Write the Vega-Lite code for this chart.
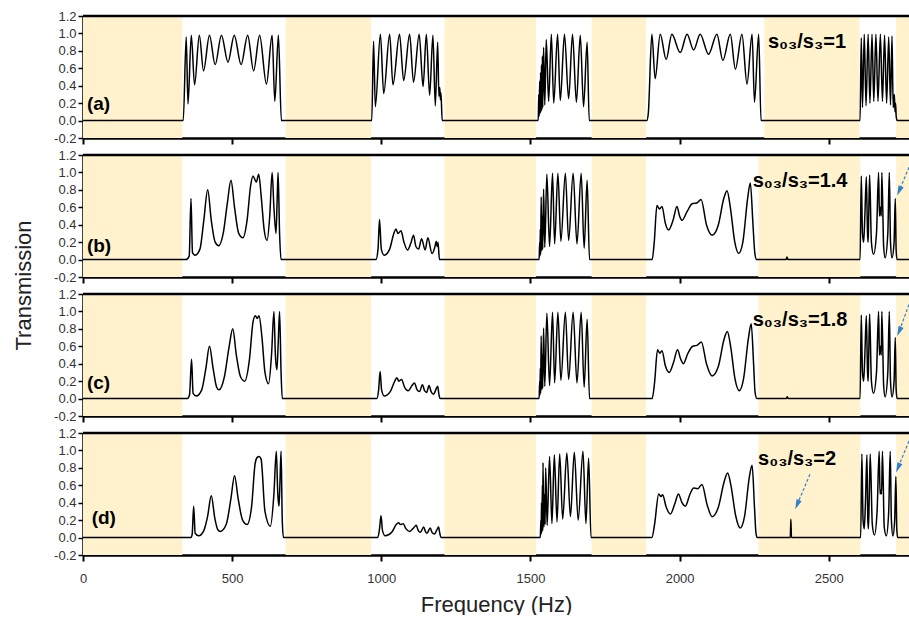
{
"$schema": "https://vega.github.io/schema/vega-lite/v6.json",
"padding": {"left": 11, "top": 10, "right": 0, "bottom": 0},
"background": "white",
"config": {
  "view": {"stroke": null},
  "font": "Liberation Sans",
  "axisX": {"tickSize": 6, "tickWidth": 2, "tickColor": "black", "domainColor": "black", "domainWidth": 2.5, "grid": false, "labelFontSize": 13, "labelColor": "#333", "labelPadding": 11, "labelFlush": false, "titleFontSize": 22, "titleFontWeight": "normal", "titleColor": "#222", "titlePadding": 9},
  "axisY": {"tickSize": 5, "tickWidth": 1.5, "tickColor": "black", "domainColor": "black", "domainWidth": 2.5, "grid": false, "labelFontSize": 13, "labelColor": "#333", "labelPadding": 2, "labelFlush": false, "labelOverlap": false, "titleFontSize": 22, "titleFontWeight": "normal", "titleColor": "#222"}
},
"datasets": {
  "bandsA": [{"f":0,"f1":333},{"f":679,"f1":966},{"f":1212,"f1":1519},{"f":1705,"f1":1888},{"f":2284,"f1":2603},{"f":2726,"f1":2769}],
  "bandsB": [{"f":0,"f1":333},{"f":679,"f1":966},{"f":1212,"f1":1519},{"f":1705,"f1":1888},{"f":2264,"f1":2606},{"f":2726,"f1":2769}],
  "a": [
    {"f":0,"t":0},{"f":336,"t":0},{"f":346,"t":0.96},{"f":352,"t":0.19},{"f":363,"t":0.98},{"f":374,"t":0.41},{"f":390,"t":0.98},{"f":404,"t":0.57},{"f":424,"t":0.98},{"f":443,"t":0.64},{"f":464,"t":0.98},{"f":486,"t":0.67},{"f":507,"t":0.98},{"f":530,"t":0.64},{"f":552,"t":0.98},{"f":572,"t":0.57},{"f":592,"t":0.98},{"f":615,"t":0.42},{"f":634,"t":0.98},{"f":643,"t":0.22},{"f":655,"t":0.98},{"f":665,"t":0},
    {"f":968,"t":0},{"f":974,"t":0.91},{"f":980,"t":0.16},{"f":997,"t":0.99},{"f":1008,"t":0.31},{"f":1028,"t":0.99},{"f":1039,"t":0.41},{"f":1061,"t":0.99},{"f":1075,"t":0.46},{"f":1095,"t":0.99},{"f":1108,"t":0.44},{"f":1127,"t":0.99},{"f":1140,"t":0.39},{"f":1151,"t":0.99},{"f":1162,"t":0.29},{"f":1173,"t":0.98},{"f":1181,"t":0.17},{"f":1189,"t":0.9},{"f":1193,"t":0.28},{"f":1196,"t":0.38},{"f":1198,"t":0.24},{"f":1200,"t":0.32},{"f":1204,"t":0},
    {"f":1526,"t":0},{"f":1528,"t":0.3},{"f":1529,"t":0.05},{"f":1531,"t":0.45},{"f":1532,"t":0.08},{"f":1534,"t":0.55},{"f":1535,"t":0.1},{"f":1537,"t":0.64},{"f":1538,"t":0.12},{"f":1540,"t":0.74},{"f":1541,"t":0.15},{"f":1544,"t":0.84},{"f":1548,"t":0.18},{"f":1553,"t":0.93},{"f":1561,"t":0.22},{"f":1570,"t":0.99},{"f":1578,"t":0.2},{"f":1591,"t":0.99},{"f":1600,"t":0.23},{"f":1614,"t":0.99},{"f":1628,"t":0.25},{"f":1641,"t":0.99},{"f":1654,"t":0.21},{"f":1667,"t":0.98},{"f":1678,"t":0.16},{"f":1690,"t":0.9},{"f":1697,"t":0},
    {"f":1890,"t":0},{"f":1895,"t":0.08},{"f":1907,"t":0.99},{"f":1918,"t":0.48},{"f":1935,"t":0.99},{"f":1955,"t":0.7},{"f":1974,"t":0.99},{"f":2002,"t":0.78},{"f":2025,"t":0.99},{"f":2047,"t":0.81},{"f":2069,"t":0.99},{"f":2097,"t":0.76},{"f":2125,"t":0.99},{"f":2145,"t":0.69},{"f":2170,"t":0.99},{"f":2187,"t":0.59},{"f":2209,"t":0.99},{"f":2226,"t":0.42},{"f":2243,"t":0.99},{"f":2251,"t":0.21},{"f":2265,"t":0.99},{"f":2273,"t":0},
    {"f":2605,"t":0},{"f":2609,"t":0.95},{"f":2613,"t":0.15},{"f":2619,"t":0.99},{"f":2625,"t":0.17},{"f":2632,"t":0.99},{"f":2638,"t":0.2},{"f":2645,"t":0.99},{"f":2651,"t":0.22},{"f":2658,"t":0.99},{"f":2665,"t":0.22},{"f":2673,"t":0.99},{"f":2680,"t":0.22},{"f":2687,"t":0.98},{"f":2694,"t":0.2},{"f":2701,"t":0.96},{"f":2707,"t":0.18},{"f":2712,"t":0.97},{"f":2716,"t":0.15},{"f":2720,"t":0.3},{"f":2722,"t":0.1},{"f":2724,"t":0.2},{"f":2726,"t":0.05},{"f":2729,"t":0},{"f":2769,"t":0}
  ],
  "b": [
    {"f":0,"t":0},{"f":345,"t":0},{"f":356,"t":0.04},{"f":362,"t":0.7},{"f":367,"t":0.08},{"f":376,"t":0.05},{"f":392,"t":0.12},{"f":405,"t":0.45},{"f":418,"t":0.8},{"f":430,"t":0.45},{"f":443,"t":0.2},{"f":455,"t":0.16},{"f":470,"t":0.3},{"f":484,"t":0.65},{"f":496,"t":0.91},{"f":508,"t":0.6},{"f":522,"t":0.3},{"f":536,"t":0.25},{"f":550,"t":0.45},{"f":562,"t":0.85},{"f":570,"t":0.96},{"f":581,"t":0.89},{"f":589,"t":0.98},{"f":598,"t":0.7},{"f":607,"t":0.35},{"f":617,"t":0.22},{"f":626,"t":0.5},{"f":634,"t":1.0},{"f":640,"t":0.6},{"f":647,"t":0.3},{"f":651,"t":0.7},{"f":654,"t":1.0},{"f":659,"t":0.3},{"f":664,"t":0},
    {"f":982,"t":0},{"f":989,"t":0.12},{"f":994,"t":0.46},{"f":1000,"t":0.12},{"f":1010,"t":0.05},{"f":1028,"t":0.12},{"f":1042,"t":0.3},{"f":1049,"t":0.35},{"f":1056,"t":0.3},{"f":1066,"t":0.33},{"f":1076,"t":0.2},{"f":1088,"t":0.11},{"f":1100,"t":0.2},{"f":1108,"t":0.28},{"f":1116,"t":0.15},{"f":1125,"t":0.12},{"f":1135,"t":0.24},{"f":1147,"t":0.11},{"f":1156,"t":0.25},{"f":1170,"t":0.07},{"f":1180,"t":0.15},{"f":1184,"t":0.21},{"f":1187,"t":0.15},{"f":1190,"t":0.2},{"f":1195,"t":0},
    {"f":1529,"t":0},{"f":1531,"t":0.2},{"f":1532,"t":0.04},{"f":1533,"t":0.35},{"f":1534,"t":0.06},{"f":1536,"t":0.72},{"f":1538,"t":0.1},{"f":1540,"t":0.5},{"f":1541,"t":0.12},{"f":1544,"t":0.81},{"f":1548,"t":0.14},{"f":1555,"t":0.98},{"f":1564,"t":0.15},{"f":1574,"t":0.99},{"f":1581,"t":0.18},{"f":1592,"t":0.99},{"f":1602,"t":0.21},{"f":1617,"t":0.99},{"f":1628,"t":0.22},{"f":1643,"t":0.99},{"f":1656,"t":0.18},{"f":1670,"t":0.99},{"f":1680,"t":0.13},{"f":1690,"t":0.91},{"f":1698,"t":0},
    {"f":1908,"t":0},{"f":1915,"t":0.2},{"f":1924,"t":0.62},{"f":1933,"t":0.58},{"f":1941,"t":0.61},{"f":1952,"t":0.42},{"f":1963,"t":0.34},{"f":1978,"t":0.45},{"f":1991,"t":0.61},{"f":2000,"t":0.5},{"f":2008,"t":0.45},{"f":2025,"t":0.55},{"f":2042,"t":0.64},{"f":2058,"t":0.65},{"f":2072,"t":0.69},{"f":2090,"t":0.4},{"f":2109,"t":0.28},{"f":2130,"t":0.4},{"f":2148,"t":0.7},{"f":2159,"t":0.79},{"f":2170,"t":0.6},{"f":2185,"t":0.2},{"f":2198,"t":0.07},{"f":2212,"t":0.2},{"f":2228,"t":0.7},{"f":2237,"t":0.88},{"f":2246,"t":0.4},{"f":2252,"t":0.08},{"f":2258,"t":0},
    {"f":2357,"t":0},{"f":2360,"t":0.03},{"f":2363,"t":0},
    {"f":2605,"t":0},{"f":2609,"t":0.96},{"f":2613,"t":0.3},{"f":2617,"t":0.2},{"f":2621,"t":0.5},{"f":2626,"t":0.95},{"f":2630,"t":0.3},{"f":2632,"t":0.2},{"f":2634,"t":0.5},{"f":2637,"t":0.97},{"f":2643,"t":0.2},{"f":2650,"t":0.06},{"f":2660,"t":0.3},{"f":2667,"t":1.0},{"f":2670,"t":0.5},{"f":2673,"t":0.6},{"f":2676,"t":0.5},{"f":2678,"t":1.0},{"f":2684,"t":0.15},{"f":2689,"t":0.02},{"f":2698,"t":0.3},{"f":2703,"t":1.0},{"f":2707,"t":0.2},{"f":2712,"t":0.02},{"f":2719,"t":0.2},{"f":2723,"t":0.7},{"f":2726,"t":0.1},{"f":2729,"t":0},{"f":2769,"t":0}
  ],
  "c": [
    {"f":0,"t":0},{"f":350,"t":0},{"f":357,"t":0.04},{"f":364,"t":0.45},{"f":369,"t":0.06},{"f":380,"t":0.03},{"f":398,"t":0.1},{"f":412,"t":0.35},{"f":424,"t":0.6},{"f":436,"t":0.35},{"f":448,"t":0.13},{"f":456,"t":0.1},{"f":474,"t":0.25},{"f":490,"t":0.6},{"f":502,"t":0.8},{"f":514,"t":0.5},{"f":528,"t":0.25},{"f":542,"t":0.2},{"f":558,"t":0.45},{"f":570,"t":0.88},{"f":578,"t":0.95},{"f":584,"t":0.92},{"f":590,"t":0.95},{"f":600,"t":0.7},{"f":610,"t":0.3},{"f":622,"t":0.17},{"f":632,"t":0.5},{"f":640,"t":1.0},{"f":645,"t":0.5},{"f":650,"t":0.33},{"f":654,"t":0.6},{"f":659,"t":1.0},{"f":664,"t":0.3},{"f":668,"t":0},
    {"f":985,"t":0},{"f":991,"t":0.1},{"f":996,"t":0.31},{"f":1001,"t":0.1},{"f":1010,"t":0.03},{"f":1030,"t":0.08},{"f":1045,"t":0.2},{"f":1052,"t":0.24},{"f":1059,"t":0.2},{"f":1068,"t":0.22},{"f":1078,"t":0.13},{"f":1090,"t":0.09},{"f":1103,"t":0.15},{"f":1111,"t":0.18},{"f":1120,"t":0.1},{"f":1128,"t":0.08},{"f":1138,"t":0.16},{"f":1145,"t":0.09},{"f":1152,"t":0.07},{"f":1160,"t":0.15},{"f":1167,"t":0.08},{"f":1175,"t":0.05},{"f":1185,"t":0.12},{"f":1189,"t":0.14},{"f":1193,"t":0.05},{"f":1197,"t":0},
    {"f":1529,"t":0},{"f":1531,"t":0.2},{"f":1532,"t":0.04},{"f":1533,"t":0.35},{"f":1534,"t":0.06},{"f":1536,"t":0.72},{"f":1538,"t":0.1},{"f":1540,"t":0.5},{"f":1541,"t":0.12},{"f":1544,"t":0.81},{"f":1548,"t":0.14},{"f":1555,"t":0.98},{"f":1564,"t":0.15},{"f":1574,"t":0.99},{"f":1581,"t":0.18},{"f":1592,"t":0.99},{"f":1602,"t":0.21},{"f":1617,"t":0.99},{"f":1628,"t":0.22},{"f":1643,"t":0.99},{"f":1656,"t":0.18},{"f":1670,"t":0.99},{"f":1680,"t":0.13},{"f":1690,"t":0.91},{"f":1698,"t":0},
    {"f":1908,"t":0},{"f":1916,"t":0.18},{"f":1926,"t":0.56},{"f":1934,"t":0.52},{"f":1941,"t":0.55},{"f":1952,"t":0.38},{"f":1965,"t":0.3},{"f":1980,"t":0.42},{"f":1993,"t":0.56},{"f":2003,"t":0.46},{"f":2012,"t":0.4},{"f":2028,"t":0.52},{"f":2044,"t":0.6},{"f":2058,"t":0.61},{"f":2073,"t":0.65},{"f":2090,"t":0.4},{"f":2109,"t":0.26},{"f":2130,"t":0.37},{"f":2149,"t":0.68},{"f":2160,"t":0.77},{"f":2171,"t":0.6},{"f":2186,"t":0.22},{"f":2200,"t":0.09},{"f":2214,"t":0.22},{"f":2231,"t":0.7},{"f":2240,"t":0.86},{"f":2248,"t":0.4},{"f":2253,"t":0.07},{"f":2259,"t":0},
    {"f":2358,"t":0},{"f":2361,"t":0.02},{"f":2364,"t":0},
    {"f":2605,"t":0},{"f":2609,"t":0.96},{"f":2613,"t":0.3},{"f":2617,"t":0.2},{"f":2621,"t":0.5},{"f":2626,"t":0.95},{"f":2630,"t":0.3},{"f":2632,"t":0.2},{"f":2634,"t":0.5},{"f":2637,"t":0.97},{"f":2643,"t":0.2},{"f":2650,"t":0.06},{"f":2660,"t":0.3},{"f":2667,"t":1.0},{"f":2670,"t":0.5},{"f":2673,"t":0.6},{"f":2676,"t":0.5},{"f":2678,"t":1.0},{"f":2684,"t":0.15},{"f":2689,"t":0.02},{"f":2698,"t":0.3},{"f":2703,"t":1.0},{"f":2707,"t":0.2},{"f":2712,"t":0.02},{"f":2719,"t":0.2},{"f":2723,"t":0.7},{"f":2726,"t":0.1},{"f":2729,"t":0},{"f":2769,"t":0}
  ],
  "d": [
    {"f":0,"t":0},{"f":362,"t":0},{"f":366,"t":0.04},{"f":371,"t":0.36},{"f":376,"t":0.05},{"f":388,"t":0.02},{"f":405,"t":0.08},{"f":418,"t":0.25},{"f":430,"t":0.48},{"f":442,"t":0.22},{"f":452,"t":0.09},{"f":460,"t":0.07},{"f":480,"t":0.15},{"f":496,"t":0.45},{"f":508,"t":0.71},{"f":520,"t":0.45},{"f":535,"t":0.2},{"f":550,"t":0.15},{"f":565,"t":0.35},{"f":577,"t":0.85},{"f":584,"t":0.92},{"f":590,"t":0.93},{"f":597,"t":0.9},{"f":610,"t":0.3},{"f":628,"t":0.13},{"f":640,"t":0.5},{"f":648,"t":0.99},{"f":653,"t":0.5},{"f":657,"t":0.36},{"f":660,"t":0.6},{"f":664,"t":0.99},{"f":668,"t":0.2},{"f":672,"t":0},
    {"f":988,"t":0},{"f":994,"t":0.1},{"f":999,"t":0.25},{"f":1004,"t":0.08},{"f":1013,"t":0.02},{"f":1035,"t":0.06},{"f":1050,"t":0.15},{"f":1058,"t":0.17},{"f":1064,"t":0.15},{"f":1073,"t":0.16},{"f":1083,"t":0.1},{"f":1095,"t":0.07},{"f":1108,"t":0.11},{"f":1117,"t":0.14},{"f":1124,"t":0.08},{"f":1131,"t":0.06},{"f":1142,"t":0.12},{"f":1148,"t":0.07},{"f":1153,"t":0.05},{"f":1164,"t":0.11},{"f":1170,"t":0.06},{"f":1178,"t":0.04},{"f":1188,"t":0.1},{"f":1192,"t":0.12},{"f":1196,"t":0.05},{"f":1200,"t":0},
    {"f":1533,"t":0},{"f":1535,"t":0.2},{"f":1536,"t":0.04},{"f":1537,"t":0.4},{"f":1538,"t":0.06},{"f":1540,"t":0.6},{"f":1541,"t":0.08},{"f":1542,"t":0.86},{"f":1545,"t":0.12},{"f":1548,"t":0.5},{"f":1549,"t":0.15},{"f":1551,"t":0.8},{"f":1556,"t":0.14},{"f":1564,"t":0.93},{"f":1572,"t":0.16},{"f":1580,"t":0.95},{"f":1589,"t":0.18},{"f":1598,"t":0.96},{"f":1608,"t":0.21},{"f":1622,"t":0.97},{"f":1634,"t":0.24},{"f":1647,"t":0.98},{"f":1660,"t":0.2},{"f":1676,"t":0.99},{"f":1686,"t":0.16},{"f":1695,"t":0.91},{"f":1703,"t":0},
    {"f":1907,"t":0},{"f":1916,"t":0.15},{"f":1930,"t":0.5},{"f":1938,"t":0.47},{"f":1943,"t":0.49},{"f":1955,"t":0.35},{"f":1969,"t":0.27},{"f":1985,"t":0.4},{"f":1996,"t":0.5},{"f":2008,"t":0.4},{"f":2019,"t":0.36},{"f":2035,"t":0.5},{"f":2047,"t":0.57},{"f":2060,"t":0.56},{"f":2075,"t":0.61},{"f":2092,"t":0.38},{"f":2109,"t":0.24},{"f":2130,"t":0.35},{"f":2150,"t":0.65},{"f":2161,"t":0.74},{"f":2172,"t":0.6},{"f":2188,"t":0.25},{"f":2203,"t":0.11},{"f":2218,"t":0.25},{"f":2234,"t":0.7},{"f":2243,"t":0.83},{"f":2251,"t":0.35},{"f":2256,"t":0.05},{"f":2260,"t":0},
    {"f":2371,"t":0},{"f":2373,"t":0.21},{"f":2375,"t":0},
    {"f":2607,"t":0},{"f":2611,"t":0.96},{"f":2615,"t":0.2},{"f":2619,"t":0.1},{"f":2623,"t":0.4},{"f":2628,"t":0.95},{"f":2631,"t":0.2},{"f":2633,"t":0.1},{"f":2636,"t":0.5},{"f":2639,"t":0.96},{"f":2646,"t":0.15},{"f":2653,"t":0.03},{"f":2662,"t":0.3},{"f":2669,"t":0.99},{"f":2672,"t":0.5},{"f":2675,"t":0.55},{"f":2677,"t":0.5},{"f":2680,"t":0.99},{"f":2686,"t":0.12},{"f":2693,"t":0.02},{"f":2701,"t":0.3},{"f":2706,"t":0.99},{"f":2710,"t":0.2},{"f":2715,"t":0.02},{"f":2721,"t":0.2},{"f":2725,"t":0.7},{"f":2728,"t":0.1},{"f":2731,"t":0},{"f":2769,"t":0}
  ]
},
"spacing": 17,
"bounds": "flush",
"vconcat": [
  {
    "width": 826, "height": 122,
    "layer": [
      {"data": {"name": "bandsA"}, "mark": {"type": "rect", "fill": "#FFF2CC", "stroke": null},
       "encoding": {"x": {"field": "f", "type": "quantitative", "scale": {"domain": [0, 2769], "nice": false, "zero": false}, "axis": {"values": [0, 500, 1000, 1500, 2000, 2500], "labels": false}, "title": null}, "x2": {"field": "f1"}}},
      {"data": {"values": [{}]}, "mark": {"type": "rule", "strokeWidth": 2.5, "color": "black"},
       "encoding": {"x": {"datum": 0, "type": "quantitative", "scale": {"domain": [0, 2769], "nice": false, "zero": false}, "title": null}, "x2": {"datum": 2769}, "y": {"datum": 1.2, "type": "quantitative", "scale": {"domain": [-0.2, 1.2], "nice": false, "zero": false}, "axis": {"values": [-0.2, 0, 0.2, 0.4, 0.6, 0.8, 1, 1.2], "labelOverlap": false, "labelExpr": "datum.value < -0.1 ? '-0.2' : format(datum.value, '.1f')"}, "title": null}}},
      {"data": {"name": "a"}, "mark": {"type": "line", "color": "black", "strokeWidth": 1.5, "interpolate": "monotone"},
       "encoding": {"x": {"field": "f", "type": "quantitative", "scale": {"domain": [0, 2769], "nice": false, "zero": false}, "title": null}, "y": {"field": "t", "type": "quantitative", "scale": {"domain": [-0.2, 1.2], "nice": false, "zero": false}, "axis": {"values": [-0.2, 0, 0.2, 0.4, 0.6, 0.8, 1, 1.2], "labelOverlap": false, "labelExpr": "datum.value < -0.1 ? '-0.2' : format(datum.value, '.1f')"}, "title": null}}},
      {"data": {"values": [{"f": 13, "t": 0.19, "txt": "(a)"}, {"f": 2296, "t": 0.9, "txt": "s₀₃/s₃=1"}]}, "mark": {"type": "text", "align": "left", "fontWeight": "bold", "color": "black"},
       "encoding": {"x": {"field": "f", "type": "quantitative", "scale": {"domain": [0, 2769], "nice": false, "zero": false}, "title": null}, "y": {"field": "t", "type": "quantitative", "scale": {"domain": [-0.2, 1.2], "nice": false, "zero": false}, "axis": {"values": [-0.2, 0, 0.2, 0.4, 0.6, 0.8, 1, 1.2], "labelOverlap": false, "labelExpr": "datum.value < -0.1 ? '-0.2' : format(datum.value, '.1f')"}, "title": null}, "text": {"field": "txt"}, "size": {"condition": {"test": "datum.txt[0] == '('", "value": 19}, "value": 20}, "baseline": {"condition": {"test": "datum.txt[0] == '('", "value": "middle"}, "value": "alphabetic"}}}
    ]
  },
  {
    "width": 826, "height": 122,
    "layer": [
      {"data": {"name": "bandsB"}, "mark": {"type": "rect", "fill": "#FFF2CC", "stroke": null},
       "encoding": {"x": {"field": "f", "type": "quantitative", "scale": {"domain": [0, 2769], "nice": false, "zero": false}, "axis": {"values": [0, 500, 1000, 1500, 2000, 2500], "labels": false}, "title": null}, "x2": {"field": "f1"}}},
      {"data": {"values": [{}]}, "mark": {"type": "rule", "strokeWidth": 2.5, "color": "black"},
       "encoding": {"x": {"datum": 0, "type": "quantitative", "scale": {"domain": [0, 2769], "nice": false, "zero": false}, "title": null}, "x2": {"datum": 2769}, "y": {"datum": 1.2, "type": "quantitative", "scale": {"domain": [-0.2, 1.2], "nice": false, "zero": false}, "axis": {"values": [-0.2, 0, 0.2, 0.4, 0.6, 0.8, 1, 1.2], "labelOverlap": false, "labelExpr": "datum.value < -0.1 ? '-0.2' : format(datum.value, '.1f')", "titleX": -60, "titleY": 130, "titleBaseline": "middle"}, "title": "Transmission"}}},
      {"data": {"name": "b"}, "mark": {"type": "line", "color": "black", "strokeWidth": 1.5, "interpolate": "monotone"},
       "encoding": {"x": {"field": "f", "type": "quantitative", "scale": {"domain": [0, 2769], "nice": false, "zero": false}, "title": null}, "y": {"field": "t", "type": "quantitative", "scale": {"domain": [-0.2, 1.2], "nice": false, "zero": false}, "axis": {"values": [-0.2, 0, 0.2, 0.4, 0.6, 0.8, 1, 1.2], "labelOverlap": false, "labelExpr": "datum.value < -0.1 ? '-0.2' : format(datum.value, '.1f')", "titleX": -60, "titleY": 130, "titleBaseline": "middle"}, "title": "Transmission"}}},
      {"data": {"values": [{"f": 13, "t": 0.16, "txt": "(b)"}, {"f": 2245, "t": 0.905, "txt": "s₀₃/s₃=1.4"}]}, "mark": {"type": "text", "align": "left", "fontWeight": "bold", "color": "black"},
       "encoding": {"x": {"field": "f", "type": "quantitative", "scale": {"domain": [0, 2769], "nice": false, "zero": false}, "title": null}, "y": {"field": "t", "type": "quantitative", "scale": {"domain": [-0.2, 1.2], "nice": false, "zero": false}, "axis": {"values": [-0.2, 0, 0.2, 0.4, 0.6, 0.8, 1, 1.2], "labelOverlap": false, "labelExpr": "datum.value < -0.1 ? '-0.2' : format(datum.value, '.1f')", "titleX": -60, "titleY": 130, "titleBaseline": "middle"}, "title": "Transmission"}, "text": {"field": "txt"}, "size": {"condition": {"test": "datum.txt[0] == '('", "value": 19}, "value": 20}, "baseline": {"condition": {"test": "datum.txt[0] == '('", "value": "middle"}, "value": "alphabetic"}}},
      {"data": {"values": [{"f": 2769, "t": 1.06, "f2": 2736, "t2": 0.787}]}, "mark": {"type": "rule", "color": "#2F80D0", "strokeWidth": 1.2, "strokeDash": [3, 2]},
       "encoding": {"x": {"field": "f", "type": "quantitative", "scale": {"domain": [0, 2769], "nice": false, "zero": false}, "title": null}, "y": {"field": "t", "type": "quantitative", "scale": {"domain": [-0.2, 1.2], "nice": false, "zero": false}, "axis": {"values": [-0.2, 0, 0.2, 0.4, 0.6, 0.8, 1, 1.2], "labelOverlap": false, "labelExpr": "datum.value < -0.1 ? '-0.2' : format(datum.value, '.1f')", "titleX": -60, "titleY": 130, "titleBaseline": "middle"}, "title": "Transmission"}, "x2": {"field": "f2"}, "y2": {"field": "t2"}}},
      {"data": {"values": [{"f": 2736, "t": 0.787}]}, "mark": {"type": "point", "shape": "M0,-1L0.55,1L-0.55,1Z", "filled": true, "color": "#2F80D0", "opacity": 1, "size": 100, "angle": 203},
       "encoding": {"x": {"field": "f", "type": "quantitative", "scale": {"domain": [0, 2769], "nice": false, "zero": false}, "title": null}, "y": {"field": "t", "type": "quantitative", "scale": {"domain": [-0.2, 1.2], "nice": false, "zero": false}, "axis": {"values": [-0.2, 0, 0.2, 0.4, 0.6, 0.8, 1, 1.2], "labelOverlap": false, "labelExpr": "datum.value < -0.1 ? '-0.2' : format(datum.value, '.1f')", "titleX": -60, "titleY": 130, "titleBaseline": "middle"}, "title": "Transmission"}}}
    ]
  },
  {
    "width": 826, "height": 122,
    "layer": [
      {"data": {"name": "bandsB"}, "mark": {"type": "rect", "fill": "#FFF2CC", "stroke": null},
       "encoding": {"x": {"field": "f", "type": "quantitative", "scale": {"domain": [0, 2769], "nice": false, "zero": false}, "axis": {"values": [0, 500, 1000, 1500, 2000, 2500], "labels": false}, "title": null}, "x2": {"field": "f1"}}},
      {"data": {"values": [{}]}, "mark": {"type": "rule", "strokeWidth": 2.5, "color": "black"},
       "encoding": {"x": {"datum": 0, "type": "quantitative", "scale": {"domain": [0, 2769], "nice": false, "zero": false}, "title": null}, "x2": {"datum": 2769}, "y": {"datum": 1.2, "type": "quantitative", "scale": {"domain": [-0.2, 1.2], "nice": false, "zero": false}, "axis": {"values": [-0.2, 0, 0.2, 0.4, 0.6, 0.8, 1, 1.2], "labelOverlap": false, "labelExpr": "datum.value < -0.1 ? '-0.2' : format(datum.value, '.1f')"}, "title": null}}},
      {"data": {"name": "c"}, "mark": {"type": "line", "color": "black", "strokeWidth": 1.5, "interpolate": "monotone"},
       "encoding": {"x": {"field": "f", "type": "quantitative", "scale": {"domain": [0, 2769], "nice": false, "zero": false}, "title": null}, "y": {"field": "t", "type": "quantitative", "scale": {"domain": [-0.2, 1.2], "nice": false, "zero": false}, "axis": {"values": [-0.2, 0, 0.2, 0.4, 0.6, 0.8, 1, 1.2], "labelOverlap": false, "labelExpr": "datum.value < -0.1 ? '-0.2' : format(datum.value, '.1f')"}, "title": null}}},
      {"data": {"values": [{"f": 13, "t": 0.18, "txt": "(c)"}, {"f": 2245, "t": 0.9, "txt": "s₀₃/s₃=1.8"}]}, "mark": {"type": "text", "align": "left", "fontWeight": "bold", "color": "black"},
       "encoding": {"x": {"field": "f", "type": "quantitative", "scale": {"domain": [0, 2769], "nice": false, "zero": false}, "title": null}, "y": {"field": "t", "type": "quantitative", "scale": {"domain": [-0.2, 1.2], "nice": false, "zero": false}, "axis": {"values": [-0.2, 0, 0.2, 0.4, 0.6, 0.8, 1, 1.2], "labelOverlap": false, "labelExpr": "datum.value < -0.1 ? '-0.2' : format(datum.value, '.1f')"}, "title": null}, "text": {"field": "txt"}, "size": {"condition": {"test": "datum.txt[0] == '('", "value": 19}, "value": 20}, "baseline": {"condition": {"test": "datum.txt[0] == '('", "value": "middle"}, "value": "alphabetic"}}},
      {"data": {"values": [{"f": 2769, "t": 1.08, "f2": 2736, "t2": 0.77}]}, "mark": {"type": "rule", "color": "#2F80D0", "strokeWidth": 1.2, "strokeDash": [3, 2]},
       "encoding": {"x": {"field": "f", "type": "quantitative", "scale": {"domain": [0, 2769], "nice": false, "zero": false}, "title": null}, "y": {"field": "t", "type": "quantitative", "scale": {"domain": [-0.2, 1.2], "nice": false, "zero": false}, "axis": {"values": [-0.2, 0, 0.2, 0.4, 0.6, 0.8, 1, 1.2], "labelOverlap": false, "labelExpr": "datum.value < -0.1 ? '-0.2' : format(datum.value, '.1f')"}, "title": null}, "x2": {"field": "f2"}, "y2": {"field": "t2"}}},
      {"data": {"values": [{"f": 2736, "t": 0.77}]}, "mark": {"type": "point", "shape": "M0,-1L0.55,1L-0.55,1Z", "filled": true, "color": "#2F80D0", "opacity": 1, "size": 100, "angle": 203},
       "encoding": {"x": {"field": "f", "type": "quantitative", "scale": {"domain": [0, 2769], "nice": false, "zero": false}, "title": null}, "y": {"field": "t", "type": "quantitative", "scale": {"domain": [-0.2, 1.2], "nice": false, "zero": false}, "axis": {"values": [-0.2, 0, 0.2, 0.4, 0.6, 0.8, 1, 1.2], "labelOverlap": false, "labelExpr": "datum.value < -0.1 ? '-0.2' : format(datum.value, '.1f')"}, "title": null}}}
    ]
  },
  {
    "width": 826, "height": 122,
    "layer": [
      {"data": {"name": "bandsB"}, "mark": {"type": "rect", "fill": "#FFF2CC", "stroke": null},
       "encoding": {"x": {"field": "f", "type": "quantitative", "scale": {"domain": [0, 2769], "nice": false, "zero": false}, "axis": {"values": [0, 500, 1000, 1500, 2000, 2500], "labels": true, "format": "d"}, "title": "Frequency (Hz)"}, "x2": {"field": "f1"}}},
      {"data": {"values": [{}]}, "mark": {"type": "rule", "strokeWidth": 2.5, "color": "black"},
       "encoding": {"x": {"datum": 0, "type": "quantitative", "scale": {"domain": [0, 2769], "nice": false, "zero": false}, "title": "Frequency (Hz)"}, "x2": {"datum": 2769}, "y": {"datum": 1.2, "type": "quantitative", "scale": {"domain": [-0.2, 1.2], "nice": false, "zero": false}, "axis": {"values": [-0.2, 0, 0.2, 0.4, 0.6, 0.8, 1, 1.2], "labelOverlap": false, "labelExpr": "datum.value < -0.1 ? '-0.2' : format(datum.value, '.1f')"}, "title": null}}},
      {"data": {"name": "d"}, "mark": {"type": "line", "color": "black", "strokeWidth": 1.5, "interpolate": "monotone"},
       "encoding": {"x": {"field": "f", "type": "quantitative", "scale": {"domain": [0, 2769], "nice": false, "zero": false}, "title": "Frequency (Hz)"}, "y": {"field": "t", "type": "quantitative", "scale": {"domain": [-0.2, 1.2], "nice": false, "zero": false}, "axis": {"values": [-0.2, 0, 0.2, 0.4, 0.6, 0.8, 1, 1.2], "labelOverlap": false, "labelExpr": "datum.value < -0.1 ? '-0.2' : format(datum.value, '.1f')"}, "title": null}}},
      {"data": {"values": [{"f": 29, "t": 0.23, "txt": "(d)"}, {"f": 2263, "t": 0.9, "txt": "s₀₃/s₃=2"}]}, "mark": {"type": "text", "align": "left", "fontWeight": "bold", "color": "black"},
       "encoding": {"x": {"field": "f", "type": "quantitative", "scale": {"domain": [0, 2769], "nice": false, "zero": false}, "title": "Frequency (Hz)"}, "y": {"field": "t", "type": "quantitative", "scale": {"domain": [-0.2, 1.2], "nice": false, "zero": false}, "axis": {"values": [-0.2, 0, 0.2, 0.4, 0.6, 0.8, 1, 1.2], "labelOverlap": false, "labelExpr": "datum.value < -0.1 ? '-0.2' : format(datum.value, '.1f')"}, "title": null}, "text": {"field": "txt"}, "size": {"condition": {"test": "datum.txt[0] == '('", "value": 19}, "value": 20}, "baseline": {"condition": {"test": "datum.txt[0] == '('", "value": "middle"}, "value": "alphabetic"}}},
      {"data": {"values": [{"f": 2769, "t": 1.108, "f2": 2732, "t2": 0.8}, {"f": 2437, "t": 0.726, "f2": 2394, "t2": 0.377}]}, "mark": {"type": "rule", "color": "#2F80D0", "strokeWidth": 1.2, "strokeDash": [3, 2]},
       "encoding": {"x": {"field": "f", "type": "quantitative", "scale": {"domain": [0, 2769], "nice": false, "zero": false}, "title": "Frequency (Hz)"}, "y": {"field": "t", "type": "quantitative", "scale": {"domain": [-0.2, 1.2], "nice": false, "zero": false}, "axis": {"values": [-0.2, 0, 0.2, 0.4, 0.6, 0.8, 1, 1.2], "labelOverlap": false, "labelExpr": "datum.value < -0.1 ? '-0.2' : format(datum.value, '.1f')"}, "title": null}, "x2": {"field": "f2"}, "y2": {"field": "t2"}}},
      {"data": {"values": [{"f": 2732, "t": 0.8}, {"f": 2394, "t": 0.377}]}, "mark": {"type": "point", "shape": "M0,-1L0.55,1L-0.55,1Z", "filled": true, "color": "#2F80D0", "opacity": 1, "size": 100, "angle": 203},
       "encoding": {"x": {"field": "f", "type": "quantitative", "scale": {"domain": [0, 2769], "nice": false, "zero": false}, "title": "Frequency (Hz)"}, "y": {"field": "t", "type": "quantitative", "scale": {"domain": [-0.2, 1.2], "nice": false, "zero": false}, "axis": {"values": [-0.2, 0, 0.2, 0.4, 0.6, 0.8, 1, 1.2], "labelOverlap": false, "labelExpr": "datum.value < -0.1 ? '-0.2' : format(datum.value, '.1f')"}, "title": null}}}
    ]
  }
]
}
